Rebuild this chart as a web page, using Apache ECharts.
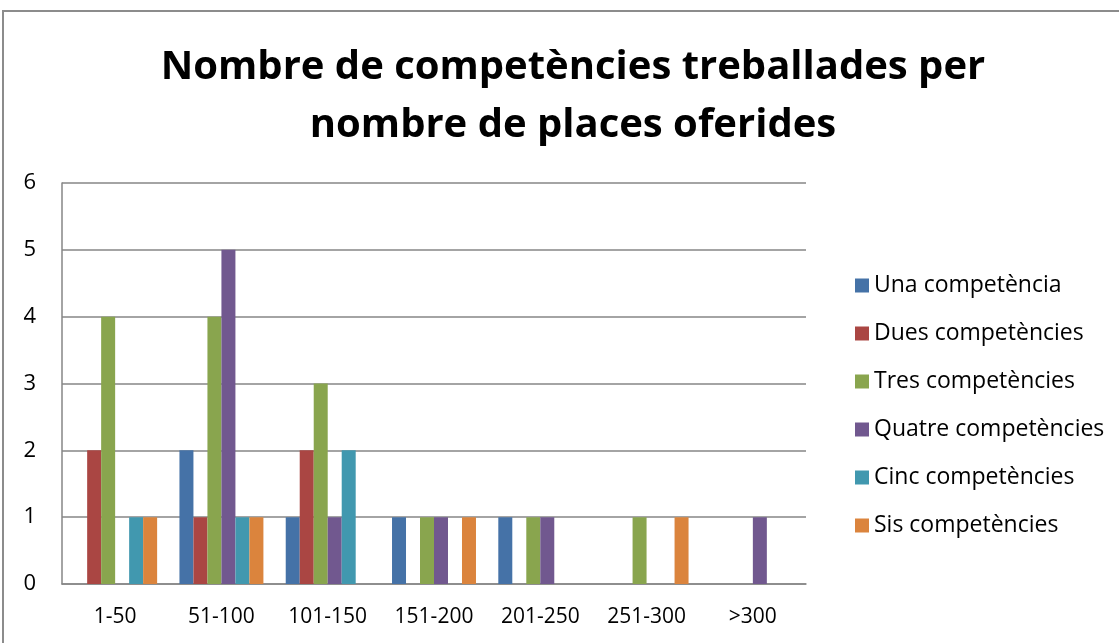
<!DOCTYPE html>
<html>
<head>
<meta charset="utf-8">
<script src="https://cdn.jsdelivr.net/npm/echarts@6/dist/echarts.min.js"></script>
<style>
  html, body { margin: 0; padding: 0; background: #fff; }
  #chart { width: 1119px; height: 643px; }
</style>
</head>
<body>
<div id="chart"></div>
<script>
// categories (places oferides)
const categories = ["1-50", "51-100", "101-150", "151-200", "201-250", "251-300", ">300"];
const yTicks = [0, 1, 2, 3, 4, 5, 6];

// nombre de competències per rang
const una = [0, 2, 1, 1, 1, 0, 0];
const dues = [2, 1, 2, 0, 0, 0, 0];
const tres = [4, 4, 3, 1, 1, 1, 0];
const quatre = [0, 5, 1, 1, 1, 0, 1];
const cinc = [1, 1, 2, 0, 0, 0, 0];
const sis = [1, 1, 0, 1, 0, 1, 0];

const seriesNames = ["Una competència", "Dues competències", "Tres competències",
  "Quatre competències", "Cinc competències", "Sis competències"];
const seriesData = [una, dues, tres, quatre, cinc, sis];
const colors = ["#4572A7", "#AA4643", "#89A54E", "#71588F", "#4198AF", "#DB843D"];

const chart = echarts.init(document.getElementById("chart"));

const font = "'Open Sans', sans-serif";

chart.setOption({
  backgroundColor: "#fff",
  animation: false,
  color: colors,
  title: {
    text: "Nombre de competències treballades per\nnombre de places oferides",
    left: 568,
    textAlign: "center",
    top: 34,
    textStyle: {
      fontFamily: font,
      fontWeight: "bold",
      fontSize: 40,
      lineHeight: 58,
      color: "#000"
    }
  },
  legend: {
    orient: "vertical",
    left: 850,
    top: 269,
    itemWidth: 14,
    itemHeight: 14,
    itemGap: 25,
    icon: "rect",
    textStyle: { fontFamily: font, fontSize: 23, color: "#000" },
    data: seriesNames
  },
  grid: {
    left: 62,
    right: 1119 - 806,
    top: 183,
    bottom: 643 - 584,
    containLabel: false
  },
  xAxis: {
    type: "category",
    data: categories,
    axisLine: { lineStyle: { color: "#868686", width: 1.5 } },
    axisTick: { show: false },
    axisLabel: {
      fontFamily: font, fontSize: 21, color: "#000", margin: 23,
      interval: 0, hideOverlap: false
    }
  },
  yAxis: {
    type: "value",
    min: yTicks[0],
    max: yTicks[yTicks.length - 1],
    interval: 1,
    axisLine: { show: true, lineStyle: { color: "#868686", width: 1.5 } },
    axisTick: { show: false },
    axisLabel: { fontFamily: font, fontSize: 22, color: "#000", margin: 26 },
    splitLine: { lineStyle: { color: "#868686", width: 1.5 } }
  },
  graphic: [{
    type: "rect",
    shape: { x: 3, y: 11, width: 1130, height: 650 },
    style: { fill: null, stroke: "#8c8c8c", lineWidth: 2 },
    silent: true
  }],
  series: seriesNames.map((name, i) => ({
    name: name,
    type: "bar",
    data: seriesData[i],
    barGap: "0%",
    barCategoryGap: "21%",
    itemStyle: { color: colors[i] }
  }))
});
</script>
</body>
</html>
